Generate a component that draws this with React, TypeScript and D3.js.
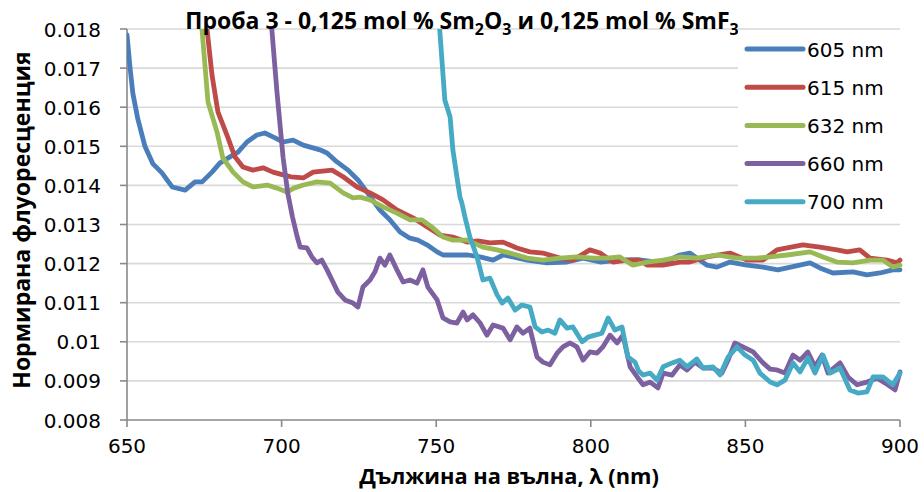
import React from 'react';
import * as d3 from 'd3';

// ---- Data ----
const xTickValues = [650, 700, 750, 800, 850, 900];
const yTickValues = [0.008, 0.009, 0.01, 0.011, 0.012, 0.013, 0.014, 0.015, 0.016, 0.017, 0.018];
const yTickLabels = ['0.008', '0.009', '0.01', '0.011', '0.012', '0.013', '0.014', '0.015', '0.016', '0.017', '0.018'];
const seriesNames = ['605 nm', '615 nm', '632 nm', '660 nm', '700 nm'];

const wl605 = [650, 651, 651.9, 653.5, 655.8, 658.4, 661.3, 664.6, 668.8, 672, 674.3, 677.5, 680, 683.3, 685.9, 688.8, 692, 694.6, 697.2, 700.5, 703.7, 707, 712.4, 714.7, 717.9, 721.5, 724.7, 727.6, 731.8, 735, 738.3, 741.5, 744.1, 747, 750.3, 752.2, 756.7, 760.3, 764.2, 768.4, 771.6, 774.8, 779.4, 785.8, 792.3, 797.5, 803, 809.4, 815, 823.4, 828.8, 832, 837.6, 840.8, 845, 850.5, 855.7, 860.5, 863.5, 870.9, 874.1, 878.3, 884.8, 889.3, 893.5, 897.7, 900];
const v605 = [0.01785, 0.0170, 0.01635, 0.0157, 0.0150, 0.01455, 0.01432, 0.01396, 0.01388, 0.01409, 0.01409, 0.01434, 0.01457, 0.01473, 0.01485, 0.01511, 0.01529, 0.01534, 0.01524, 0.01511, 0.01516, 0.01503, 0.01491, 0.01483, 0.0146, 0.01439, 0.01414, 0.01383, 0.01337, 0.01312, 0.01281, 0.01265, 0.0126, 0.01248, 0.0123, 0.01222, 0.01222, 0.01222, 0.01217, 0.01209, 0.01222, 0.01217, 0.01209, 0.01202, 0.01204, 0.01214, 0.01204, 0.01209, 0.0121, 0.01202, 0.01222, 0.01227, 0.01196, 0.01191, 0.01204, 0.01196, 0.01191, 0.01184, 0.01189, 0.01202, 0.01189, 0.01176, 0.01179, 0.01171, 0.01176, 0.01184, 0.01184];

const wl615 = [674.5, 677.5, 679.4, 682.3, 684.9, 687.5, 690.7, 694, 697.2, 700.5, 703, 707, 710.2, 716.3, 719.9, 724.4, 728.6, 732.8, 737.3, 742.5, 747, 751.2, 755.4, 760, 763.5, 767.4, 771.6, 776.1, 780.3, 784.5, 790, 794.2, 799.7, 803, 807.2, 811.7, 815.9, 818.2, 823.4, 828.8, 832, 837.6, 845, 850.5, 855.7, 860.2, 863.5, 868.6, 874.1, 879.6, 882.9, 887, 890.3, 895.8, 899, 900];
const v615 = [0.019, 0.01682, 0.01588, 0.01529, 0.01473, 0.01447, 0.01439, 0.01445, 0.01434, 0.01427, 0.01422, 0.01419, 0.01434, 0.01439, 0.01422, 0.01396, 0.01381, 0.01363, 0.01337, 0.01317, 0.01294, 0.01273, 0.01268, 0.01255, 0.01258, 0.01253, 0.01255, 0.0124, 0.0123, 0.01227, 0.01214, 0.01209, 0.01235, 0.01227, 0.01204, 0.01209, 0.01209, 0.01196, 0.01196, 0.01204, 0.01204, 0.01217, 0.01227, 0.01209, 0.01209, 0.01235, 0.0124, 0.01248, 0.01242, 0.01235, 0.0123, 0.01235, 0.01214, 0.01209, 0.01202, 0.01209];

const wl632 = [673.2, 676.2, 679.1, 681, 684.3, 687.5, 690.7, 695.3, 698.5, 701.7, 704, 707, 711.4, 715.7, 719.9, 723.1, 725.4, 728.6, 732.8, 737.3, 741.5, 745.4, 749, 752.2, 755.4, 760, 765.1, 769.7, 773.9, 779.4, 784.5, 790, 795.5, 800.7, 805.2, 809.4, 813.6, 818.2, 823.4, 828.8, 834.3, 840.8, 847.3, 853.7, 858, 863.5, 870.9, 875.1, 879.6, 884.8, 890.3, 894.5, 897.7, 900];
const v632 = [0.019, 0.01613, 0.01537, 0.0147, 0.01434, 0.01409, 0.01396, 0.01401, 0.01393, 0.01383, 0.01393, 0.01401, 0.01409, 0.01406, 0.01381, 0.01368, 0.0137, 0.01363, 0.01345, 0.01329, 0.01312, 0.01312, 0.01291, 0.01268, 0.0126, 0.0126, 0.01242, 0.01235, 0.01227, 0.01214, 0.01209, 0.01214, 0.01217, 0.01214, 0.01214, 0.01217, 0.01196, 0.01204, 0.01209, 0.01217, 0.01214, 0.01222, 0.01214, 0.01214, 0.01217, 0.01222, 0.0123, 0.01217, 0.01204, 0.01202, 0.01209, 0.01209, 0.01191, 0.01196];

const wl660 = [695.8, 698.5, 700.5, 702, 703.5, 705, 706, 708.2, 709.8, 711.4, 713, 714.7, 716.3, 718.2, 720.5, 723.1, 724.7, 726.3, 728.6, 730.2, 731.8, 733.4, 735, 737.3, 739.3, 741.5, 743.8, 745.7, 747.3, 750.3, 752.2, 754.5, 756.7, 758.7, 760, 761.9, 764.2, 766.4, 768.4, 771.6, 773.9, 776.1, 778.1, 780.3, 782.6, 784.5, 786.8, 789.1, 791, 793.3, 795.5, 797.5, 799.7, 802, 803.9, 806.2, 808.5, 810.4, 812.7, 815, 816.9, 819.2, 821.7, 823.4, 826.3, 828.8, 831.1, 833.7, 836.3, 839.5, 842.4, 844.4, 846.6, 849.2, 852.5, 855.7, 858, 860.2, 862.8, 865.4, 867.7, 870.2, 872.5, 874.8, 876.7, 880.6, 883.2, 886.1, 889.3, 892.6, 895.1, 898.4, 900];
const v660 = [0.019, 0.01639, 0.0147, 0.0138, 0.0132, 0.0127, 0.01242, 0.0124, 0.01217, 0.01202, 0.01209, 0.01184, 0.01158, 0.01127, 0.01107, 0.01099, 0.01089, 0.0114, 0.01158, 0.01179, 0.01214, 0.01196, 0.01222, 0.01184, 0.01153, 0.01158, 0.0115, 0.01184, 0.0114, 0.01107, 0.01061, 0.01051, 0.01048, 0.01076, 0.01056, 0.01069, 0.01048, 0.01017, 0.01043, 0.01035, 0.01005, 0.01038, 0.01022, 0.01035, 0.00961, 0.00948, 0.00941, 0.00971, 0.00987, 0.00997, 0.00987, 0.00953, 0.00974, 0.00971, 0.00987, 0.01017, 0.00997, 0.01017, 0.00936, 0.0091, 0.0089, 0.00897, 0.00882, 0.0092, 0.00915, 0.00941, 0.00928, 0.00948, 0.00933, 0.00933, 0.0092, 0.00953, 0.00997, 0.00987, 0.00974, 0.00946, 0.0093, 0.00928, 0.0092, 0.00966, 0.00953, 0.00974, 0.00936, 0.00966, 0.0092, 0.00946, 0.0091, 0.0089, 0.00897, 0.00907, 0.00895, 0.00877, 0.00923];

const wl700 = [750.2, 752.8, 754.5, 755.4, 756.7, 757.7, 758.3, 759.3, 760.9, 763.2, 765.1, 767.4, 769.7, 771.3, 773.2, 775.5, 777.7, 780.3, 782, 784.2, 786.2, 788.4, 790, 792.3, 794.2, 797.2, 799.1, 801.4, 803.6, 805.6, 807.8, 810.1, 812, 814.3, 815.5, 816.9, 819.2, 821.4, 823.4, 826.3, 828.8, 831.1, 834.3, 836.3, 839.5, 841.8, 844.4, 847.3, 849.9, 852.5, 854.7, 858, 860.2, 862.8, 865.4, 867.7, 870.2, 872.5, 875.1, 877.4, 880.6, 883.8, 886.4, 889.3, 891.3, 894.5, 897.7, 900];
const v700 = [0.019, 0.01618, 0.01575, 0.0149, 0.01422, 0.0137, 0.01355, 0.01319, 0.01268, 0.01217, 0.01158, 0.01163, 0.0112, 0.01099, 0.01112, 0.01081, 0.01094, 0.01089, 0.01038, 0.01025, 0.0103, 0.01022, 0.01056, 0.01035, 0.01038, 0.01, 0.01012, 0.01017, 0.01022, 0.01061, 0.0103, 0.01038, 0.00961, 0.00948, 0.00925, 0.00915, 0.0092, 0.00902, 0.00936, 0.00946, 0.00953, 0.00936, 0.00956, 0.00933, 0.00936, 0.00915, 0.00961, 0.00987, 0.00966, 0.00953, 0.0092, 0.00897, 0.0089, 0.00902, 0.00946, 0.00923, 0.00959, 0.0092, 0.00966, 0.0092, 0.00933, 0.00877, 0.00869, 0.00872, 0.0091, 0.0091, 0.0089, 0.0092];

const seriesColors = ['#4A7EBB', '#BE4B48', '#98B954', '#7D60A0', '#46AAC5'];
const seriesWl = [wl605, wl615, wl632, wl660, wl700];
const seriesV = [v605, v615, v632, v660, v700];

const W = 924;
const H = 492;
const PL = 127, PR = 900, PT = 29, PB = 420;

export default function App() {
  const x = d3.scaleLinear().domain([650, 900]).range([PL, PR]);
  const y = d3.scaleLinear().domain([0.008, 0.018]).range([PB, PT]);
  const line = d3.line<[number, number]>().x(d => x(d[0])).y(d => y(d[1]));

  const font = 'DejaVu Sans, sans-serif';
  const titleFont = 'Open Sans, DejaVu Sans, sans-serif';
  const axisColor = '#898989';
  const gridColor = '#D9D9D9';

  const legendX = 747;
  const legendY0 = 49;
  const legendDy = 38.2;

  return (
    <svg width={W} height={H} style={{ position: 'absolute', left: 0, top: 0, background: '#fff' }}>
      <defs>
        <clipPath id="plotClip">
          <rect x={PL} y={PT} width={PR - PL + 3} height={PB - PT + 3} />
        </clipPath>
      </defs>
      <rect x={0} y={0} width={W} height={H} fill="#fff" />
      {/* gridlines */}
      {yTickValues.filter(v => v > 0.008).map(v => (
        <line key={'g' + v} x1={PL} x2={PR} y1={y(v)} y2={y(v)} stroke={gridColor} strokeWidth={1.6} />
      ))}
      {/* axes */}
      <line x1={PL} x2={PL} y1={PT} y2={PB} stroke={axisColor} strokeWidth={1.6} />
      <line x1={PL} x2={PR} y1={PB} y2={PB} stroke={axisColor} strokeWidth={1.6} />
      {yTickValues.map(v => (
        <line key={'yt' + v} x1={PL - 7} x2={PL} y1={y(v)} y2={y(v)} stroke={axisColor} strokeWidth={1.6} />
      ))}
      {xTickValues.map(v => (
        <line key={'xt' + v} x1={x(v)} x2={x(v)} y1={PB} y2={PB + 7} stroke={axisColor} strokeWidth={1.6} />
      ))}
      {/* tick labels */}
      {yTickValues.map((v, i) => (
        <text key={'yl' + v} x={101} y={y(v) + 7.5} textAnchor="end" fontFamily={font} fontSize={20} fill="#000">
          {yTickLabels[i]}
        </text>
      ))}
      {xTickValues.map(v => (
        <text key={'xl' + v} x={x(v)} y={453} textAnchor="middle" fontFamily={font} fontSize={20} fill="#000">
          {String(v)}
        </text>
      ))}
      {/* series */}
      <g clipPath="url(#plotClip)">
        {seriesWl.map((wl, i) => (
          <path
            key={'s' + i}
            d={line(wl.map((w, j) => [w, seriesV[i][j]] as [number, number])) || ''}
            fill="none"
            stroke={seriesColors[i]}
            strokeWidth={4.8}
            strokeLinejoin="round"
            strokeLinecap="round"
          />
        ))}
      </g>
      {/* title */}
      <text x={462} y={29} textAnchor="middle" fontFamily={titleFont} fontWeight="bold" fontSize={23} fill="#000">
        Проба 3 - 0,125 mol % Sm<tspan dy={6} fontSize={16}>2</tspan><tspan dy={-6}>O</tspan><tspan dy={6} fontSize={16}>3</tspan><tspan dy={-6}> и 0,125 mol % SmF</tspan><tspan dy={6} fontSize={16}>3</tspan>
      </text>
      {/* legend */}
      <rect x={738} y={30.5} width={175} height={188} fill="#fff" />
      {seriesNames.map((n, i) => (
        <g key={'lg' + i}>
          <line x1={legendX} x2={legendX + 56} y1={legendY0 + i * legendDy} y2={legendY0 + i * legendDy} stroke={seriesColors[i]} strokeWidth={5} strokeLinecap="round" />
          <text x={807} y={legendY0 + i * legendDy + 7.5} fontFamily={font} fontSize={20} fill="#000">{n}</text>
        </g>
      ))}
      {/* axis titles */}
      <text x={509} y={484} textAnchor="middle" fontFamily={titleFont} fontWeight="bold" fontSize={21.8} fill="#000">
        Дължина на вълна, λ (nm)
      </text>
      <text transform={`translate(30,220) rotate(-90)`} textAnchor="middle" fontFamily={titleFont} fontWeight="bold" fontSize={23} fill="#000">
        Нормирана флуоресценция
      </text>
    </svg>
  );
}
